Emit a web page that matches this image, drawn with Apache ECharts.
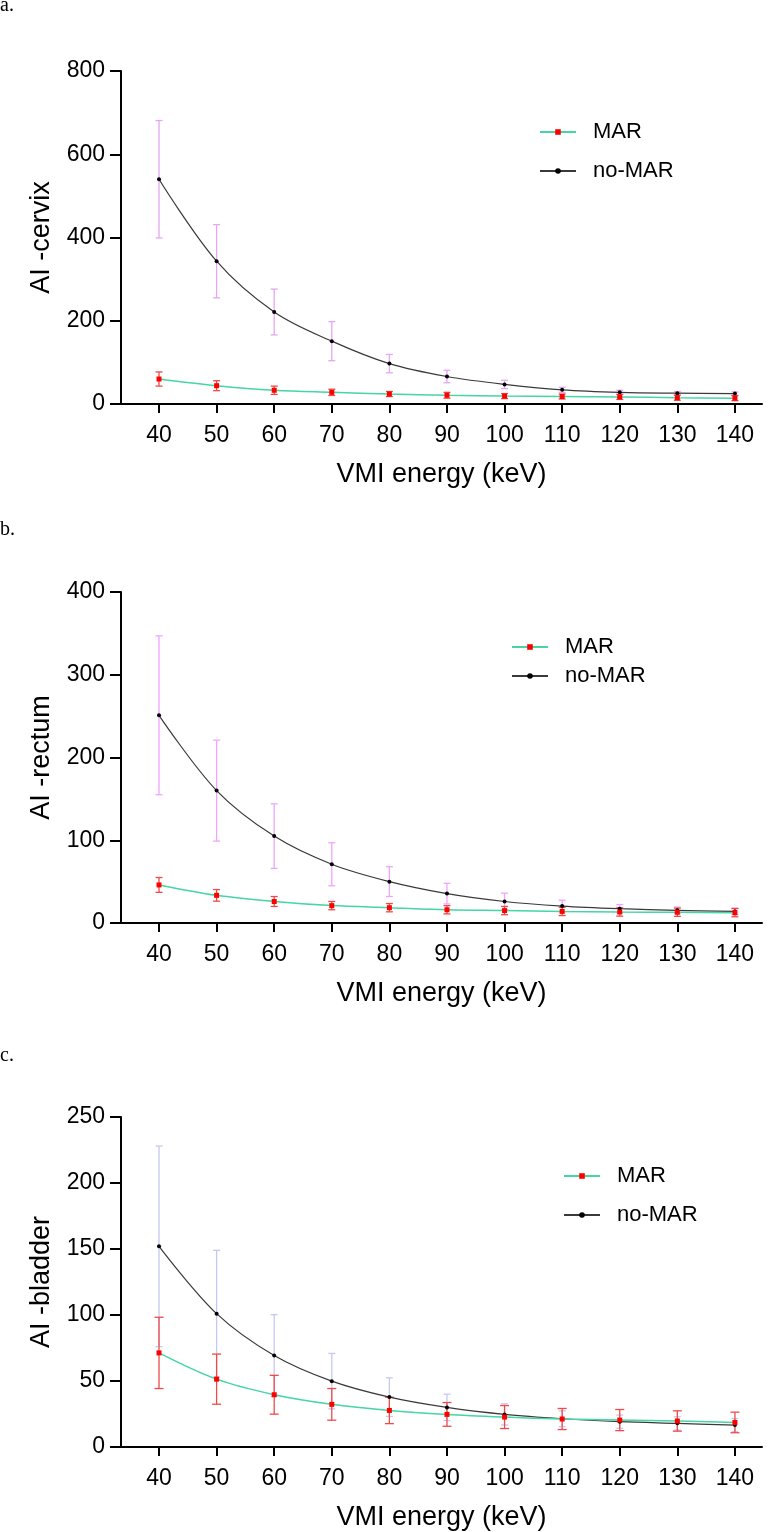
<!DOCTYPE html>
<html>
<head>
<meta charset="utf-8">
<script src="https://cdn.jsdelivr.net/npm/echarts@6/dist/echarts.min.js"></script>
<style>
  html, body { margin:0; padding:0; background:#fff; }
  #chartmain { width:779px; height:1532px; }
</style>
</head>
<body>
<div id="chartmain"></div>
<script>
// x categories: VMI energy (keV)
var energies = [40, 50, 60, 70, 80, 90, 100, 110, 120, 130, 140];

// a. cervix
var cervixMAR     = [60, 44, 33, 28, 24, 21, 19, 18, 17, 15, 14];
var cervixMARsd   = [17, 12, 10, 7.5, 6, 7, 6, 6, 6, 6, 6];
var cervixNoMAR   = [540, 343, 221, 151, 97, 66, 47, 34, 28, 26, 25];
var cervixNoMARsd = [141, 88, 55, 47, 22, 15, 10, 6, 5, 4, 4];

// b. rectum
var rectumMAR     = [46, 33.4, 26, 21, 18.5, 16, 15, 14, 13.3, 13, 12.5];
var rectumMARsd   = [9, 7, 6, 5, 5, 5, 5, 5, 5, 5, 5];
var rectumNoMAR   = [251, 160, 105, 71, 50, 35.5, 26, 20.5, 17.3, 15.3, 14];
var rectumNoMARsd = [96, 61, 39, 26, 18, 12.5, 10, 7, 5, 4, 4];

// c. bladder
var bladderMAR     = [71.3, 51.4, 39.6, 32.3, 27.7, 24.7, 22.7, 21.2, 20.4, 19.7, 18.6];
var bladderMARsd   = [27, 19, 14.7, 12, 10, 9, 8.7, 8, 8, 7.7, 7.8];
var bladderNoMAR   = [152, 101, 69.3, 49.9, 37.8, 30, 24.7, 21.4, 19.2, 17.9, 16.6];
var bladderNoMARsd = [76, 48, 31, 21, 14.6, 10, 8, 6, 5, 5, 5];

var panelNames = ['AI -cervix', 'AI -rectum', 'AI -bladder'];
var yMax = [800, 400, 250];
var yStep = [200, 100, 50];

var FONT = 'Liberation Sans, Arial, sans-serif';
var MAR_COLOR = '#45d6a2';
var MAR_ERR = '#ee4a4a';
var NOMAR_ERR = ['#e6a6f2', '#f0a4ff', '#c6c8f2'];

var grids = [
  { left:121, width:641, top:71,   height:333 },
  { left:121, width:641, top:592,  height:331 },
  { left:121, width:641, top:1117, height:330 }
];

function pairs(vals){
  var out = [];
  for (var i = 0; i < energies.length; i++) out.push([energies[i], vals[i]]);
  return out;
}
function errData(vals, sd){
  var out = [];
  for (var i = 0; i < energies.length; i++) out.push([energies[i], vals[i] - sd[i], vals[i] + sd[i]]);
  return out;
}
function errRender(color, capW){
  return function(params, api){
    var x = api.value(0);
    var top = api.coord([x, api.value(2)]);
    var bot = api.coord([x, api.value(1)]);
    var st = { stroke: color, lineWidth: 1.3 };
    return { type:'group', children:[
      { type:'line', shape:{ x1:top[0], y1:top[1], x2:bot[0], y2:bot[1] }, style:st },
      { type:'line', shape:{ x1:top[0]-capW/2, y1:top[1], x2:top[0]+capW/2, y2:top[1] }, style:st },
      { type:'line', shape:{ x1:bot[0]-capW/2, y1:bot[1], x2:bot[0]+capW/2, y2:bot[1] }, style:st }
    ]};
  };
}

var panels = [
  [cervixMAR, cervixMARsd, cervixNoMAR, cervixNoMARsd],
  [rectumMAR, rectumMARsd, rectumNoMAR, rectumNoMARsd],
  [bladderMAR, bladderMARsd, bladderNoMAR, bladderNoMARsd]
];

var xAxes = [], yAxes = [], series = [];
for (var k = 0; k < 3; k++){
  xAxes.push({
    type:'value', gridIndex:k, min:33.4, max:144.7,
    name:'VMI energy (keV)', nameLocation:'middle', nameGap:57,
    nameTextStyle:{ fontFamily:FONT, fontSize:27, color:'#000' },
    axisLine:{ lineStyle:{ color:'#000', width:2 } },
    axisTick:{ show:true, length:9, lineStyle:{ color:'#000', width:2 }, customValues:energies },
    axisLabel:{ fontFamily:FONT, fontSize:23, color:'#000', margin:20, customValues:energies },
    splitLine:{ show:false }
  });
  yAxes.push({
    type:'value', gridIndex:k, min:0, max:yMax[k], interval:yStep[k],
    name:panelNames[k], nameLocation:'middle', nameGap:66,
    nameTextStyle:{ fontFamily:FONT, fontSize:27, color:'#000' },
    axisLine:{ show:true, lineStyle:{ color:'#000', width:2 } },
    axisTick:{ show:true, length:11, lineStyle:{ color:'#000', width:2 } },
    axisLabel:{ fontFamily:FONT, fontSize:23, color:'#000', margin:16 },
    splitLine:{ show:false }
  });
  var d = panels[k];
  series.push({
    name:'noMAR-err-' + k, type:'custom', xAxisIndex:k, yAxisIndex:k, z:1,
    renderItem:errRender(NOMAR_ERR[k], 7), data:errData(d[2], d[3]), silent:true
  });
  series.push({
    name:'MAR-err-' + k, type:'custom', xAxisIndex:k, yAxisIndex:k, z:2,
    renderItem:errRender(MAR_ERR, k === 2 ? 9 : 7), data:errData(d[0], d[1]), silent:true
  });
  series.push({
    name:'no-MAR', type:'line', xAxisIndex:k, yAxisIndex:k, z:3, smooth:0.35,
    symbol:'circle', symbolSize:4, showAllSymbol:true,
    lineStyle:{ color:'#3a3a3a', width:1.2 }, itemStyle:{ color:'#000' },
    data:pairs(d[2]), animation:false
  });
  series.push({
    name:'MAR', type:'line', xAxisIndex:k, yAxisIndex:k, z:4, smooth:0.35,
    symbol:'rect', symbolSize:5, showAllSymbol:true,
    lineStyle:{ color:MAR_COLOR, width:1.5 }, itemStyle:{ color:'#ff0000' },
    data:pairs(d[0]), animation:false
  });
}

function legendAt(left, top, gap){
  return {
    orient:'vertical', left:left, top:top, itemGap:gap, itemWidth:36, itemHeight:7,
    data:['MAR', 'no-MAR'],
    textStyle:{ fontFamily:FONT, fontSize:22, color:'#000', padding:[0,0,0,12] }
  };
}

var option = {
  backgroundColor:'#fff',
  animation:false,
  grid:grids,
  xAxis:xAxes,
  yAxis:yAxes,
  legend:[ legendAt(534, 116, 17), legendAt(506, 631, 7), legendAt(558, 1160, 17) ],
  graphic:[
    { type:'text', left:0, top:-4, style:{ text:'a.', fontFamily:'Liberation Serif, serif', fontSize:20, fill:'#000' } },
    { type:'text', left:0, top:520, style:{ text:'b.', fontFamily:'Liberation Serif, serif', fontSize:20, fill:'#000' } },
    { type:'text', left:0, top:1046, style:{ text:'c.', fontFamily:'Liberation Serif, serif', fontSize:20, fill:'#000' } }
  ],
  series:series
};

var chart = echarts.init(document.getElementById('chartmain'));
chart.setOption(option);
</script>
</body>
</html>
